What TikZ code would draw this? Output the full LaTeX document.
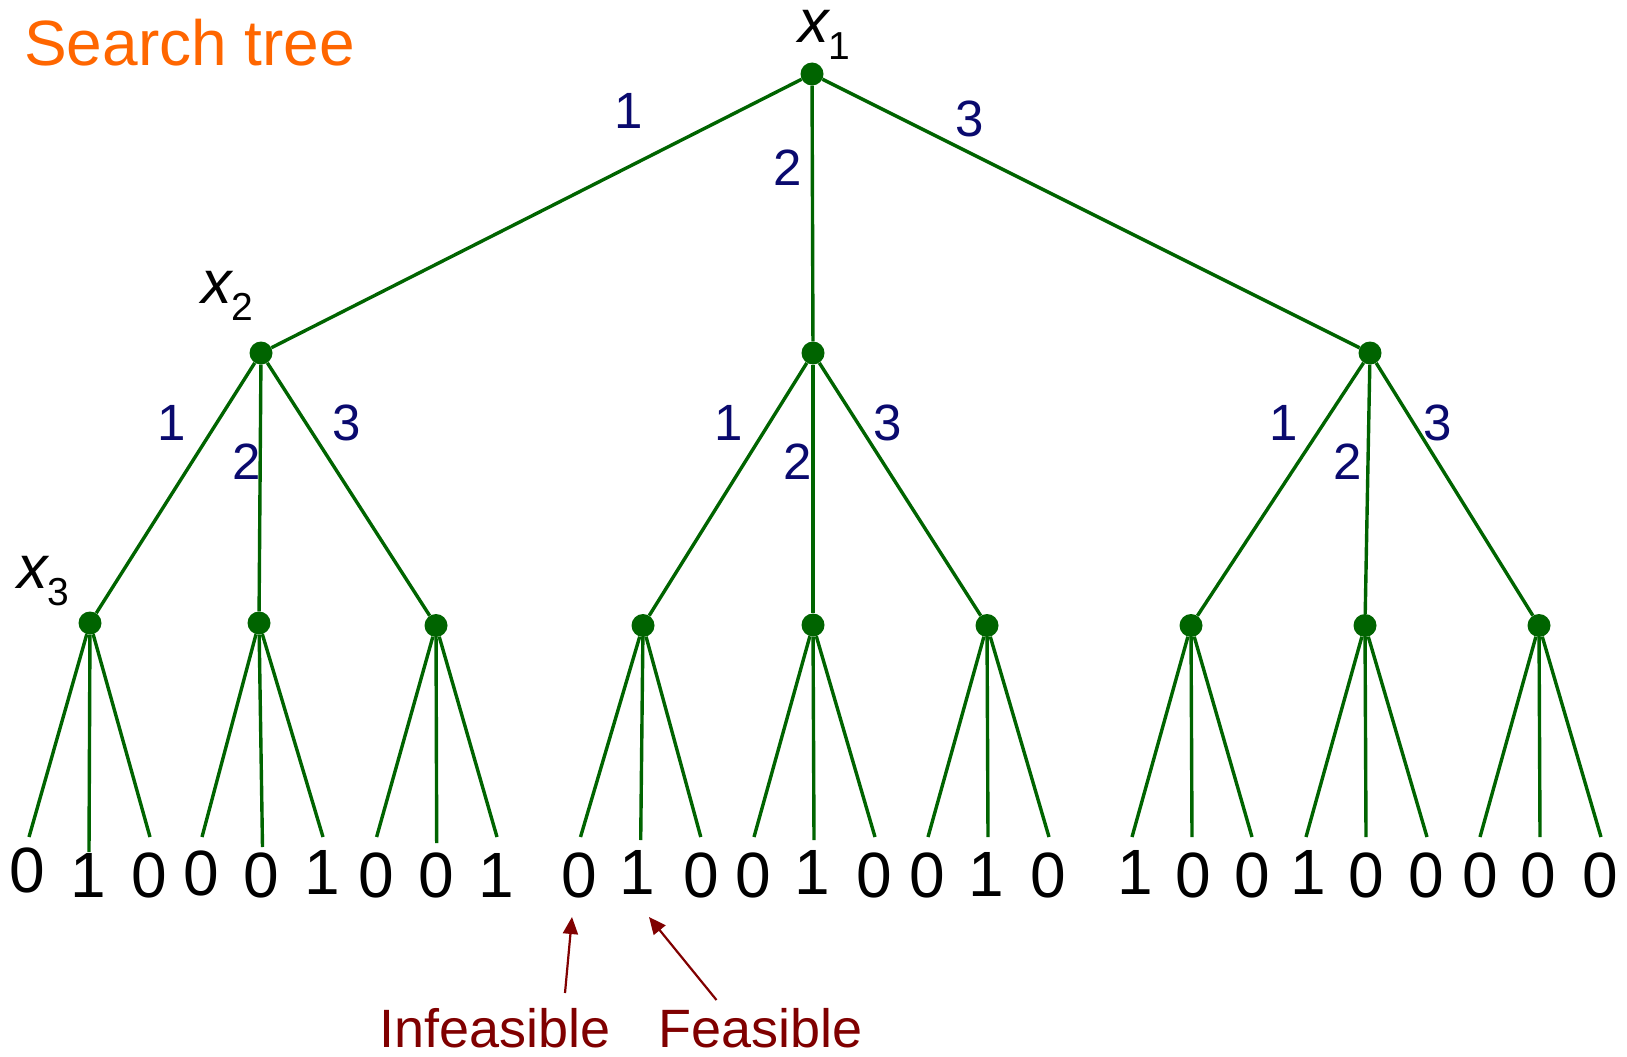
\documentclass[tikz,border=0pt]{standalone}
\usepackage{fontspec}
\setmainfont{Liberation Sans}
\usetikzlibrary{arrows.meta}
\definecolor{treegreen}{RGB}{0,100,0}
\definecolor{labnavy}{RGB}{10,10,110}
\definecolor{titleorange}{RGB}{255,102,0}
\definecolor{notered}{RGB}{128,0,0}
\tikzset{
  dot/.style={circle,fill=treegreen,inner sep=0pt,minimum size=23pt},
  edge/.style={draw=treegreen,line width=3.4pt},
  elab/.style={text=labnavy,font=\fontsize{51}{51}\selectfont,inner sep=0pt},
  leaf/.style={font=\fontsize{64}{64}\selectfont,inner sep=0pt},
  varlab/.style={anchor=base west,inner sep=0pt,font=\fontsize{61}{61}\selectfont\itshape},
  note/.style={text=notered,font=\fontsize{54}{54}\selectfont,inner sep=0pt,anchor=base west},
  notearrow/.style={draw=notered,line width=2.2pt,-{Triangle[length=17pt,width=15pt]}}
}
\newcommand{\subsc}[1]{\upshape\raisebox{-17pt}{\fontsize{39}{39}\selectfont #1}}
\begin{document}
\begin{tikzpicture}[x=1pt,y=-1pt]
\useasboundingbox (0,0) rectangle (1627,1057);
% title
\node[anchor=base west,inner sep=0pt,text=titleorange,font=\fontsize{64}{64}\selectfont] (title) at (24,66) {Search tree};
% variable labels
\node[varlab] (lx1) at (798,43) {\smash{x}\subsc{1}};
\node[varlab] (lx2) at (201,303) {x\subsc{2}};
\node[varlab] (lx3) at (17,588) {x\subsc{3}};
% level 1 and 2
\node[dot] (r) at (812,74) {};
\node[dot] (a) at (261,353) {};
\node[dot] (b) at (813,353) {};
\node[dot] (c) at (1370,353) {};
\draw[edge] (r) -- (a);
\draw[edge] (r) -- (b);
\draw[edge] (r) -- (c);
\node[elab] (t1) at (629,111) {1};
\node[elab] (t2) at (788,168) {2};
\node[elab] (t3) at (970,119) {3};
% level 3
\foreach \k/\p/\x/\y/\m/\lx/\mx/\rx in {
  1/a/90/623/852/29/89/150,
  2/a/259/623/847/202/262.5/323,
  3/a/436/625.5/843/376.6/436.7/497,
  4/b/643/625.5/840/580.5/640.7/700.8,
  5/b/813/625/840/754/814/875,
  6/b/987/625.5/837/928/988/1049,
  7/c/1191/625.5/837/1132/1192/1252,
  8/c/1365/625.5/837/1306/1366/1427,
  9/c/1539/625.5/837/1480/1540/1601}{
  \node[dot] (n\k) at (\x,\y) {};
  \draw[edge] (\p) -- (n\k);
  \coordinate (e\k l) at (\lx,837);
  \coordinate (e\k m) at (\mx,\m);
  \coordinate (e\k r) at (\rx,837);
  \draw[edge] (n\k) -- (e\k l);
  \draw[edge] (n\k) -- (e\k m);
  \draw[edge] (n\k) -- (e\k r);
}
% branch labels, level 2
\foreach \g/\ax/\bx/\cx in {a/172/247/347, b/729/797.5/888, c/1284/1347.5/1438}{
  \node[elab] (\g 1) at (\ax,423) {1};
  \node[elab] (\g 2) at (\bx,462) {2};
  \node[elab] (\g 3) at (\cx,423) {3};
}
% leaf values
\foreach \v/\x/\y [count=\k] in {
  0/27/870, 1/88/875, 0/149/875.5,
  0/201/873, 0/261.5/875, 1/322/872.5,
  0/376.6/875, 0/436.7/875, 1/496/875,
  0/579.5/875, 1/637.5/872, 0/701/875,
  0/753/875, 1/812.5/872, 0/874/875,
  0/927.6/875, 1/986.6/874.5, 0/1048/875,
  1/1135/872, 0/1193/875, 0/1252.5/875,
  1/1308/872, 0/1366/875, 0/1426.6/875,
  0/1480/875, 0/1538/875, 0/1600.6/875}{
  \node[leaf] (d\k) at (\x,\y) {\v};
}
% notes
\node[note] (inf) at (379,1047) {Infeasible};
\node[note] (fea) at (658,1047) {Feasible};
\coordinate (infs) at (565,993);
\coordinate (infe) at (572,917);
\coordinate (feas) at (716.5,1000);
\coordinate (feae) at (649,917);
\draw[notearrow] (infs) -- (infe);
\draw[notearrow] (feas) -- (feae);
\end{tikzpicture}
\end{document}
